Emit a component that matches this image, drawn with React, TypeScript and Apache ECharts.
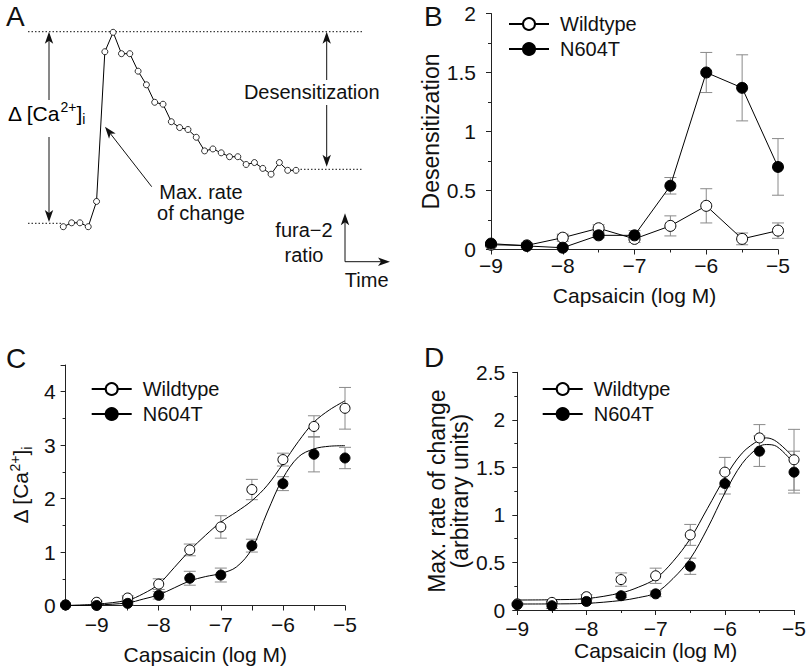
import React, { useEffect, useRef } from 'react';
import * as echarts from 'echarts';

const FONT = '"Liberation Sans", Arial, Helvetica, sans-serif';
const INK = '#111';
const ERR = '#8a8a8a';

// ---------- Panel A: schematic fura-2 trace ----------
const traceTime = [0, 1, 2, 3, 4, 5, 6, 7, 8, 9, 10, 11, 12, 13, 14, 15, 16, 17, 18, 19, 20, 21, 22, 23, 24, 25, 26, 27, 28];
const traceRatio = [0.0, 0.02, 0.02, 0.0, 0.13, 0.9, 1.0, 0.89, 0.89, 0.8, 0.73, 0.64, 0.63, 0.54, 0.51, 0.5, 0.46, 0.39, 0.4, 0.38, 0.36, 0.36, 0.32, 0.33, 0.3, 0.27, 0.33, 0.29, 0.29];

// ---------- Panel B: desensitization ----------
const concB = [-9, -8.5, -8, -7.5, -7, -6.5, -6, -5.5, -5];
const desWT = [0.04, 0.035, 0.1, 0.18, 0.09, 0.2, 0.37, 0.09, 0.16];
const desWTErr = [0.01, 0.02, 0.03, 0.03, 0.03, 0.085, 0.145, 0.05, 0.065];
const desN = [0.05, 0.03, 0.015, 0.12, 0.12, 0.54, 1.5, 1.37, 0.7];
const desNErr = [0.01, 0.01, 0.01, 0.02, 0.04, 0.07, 0.17, 0.28, 0.24];

// ---------- Panel C: delta [Ca2+]i ----------
const concC = [-9.5, -9, -8.5, -8, -7.5, -7, -6.5, -6, -5.5, -5];
const caWT = [0.01, 0.06, 0.14, 0.4, 1.04, 1.47, 2.17, 2.73, 3.35, 3.69];
const caWTErr = [0, 0.02, 0.04, 0.1, 0.11, 0.21, 0.19, 0.12, 0.2, 0.39];
const caN = [0.01, 0.0, 0.04, 0.19, 0.51, 0.57, 1.12, 2.28, 2.83, 2.76];
const caNErr = [0, 0, 0.03, 0.07, 0.13, 0.13, 0.12, 0.13, 0.33, 0.2];
const fitConcC = [-9.5, -9, -8.5, -8.25, -8, -7.75, -7.5, -7.25, -7, -6.75, -6.5, -6.25, -6, -5.75, -5.5, -5.25, -5];
const caWTFit = [0, 0.025, 0.1, 0.22, 0.4, 0.71, 1.03, 1.31, 1.56, 1.75, 1.96, 2.25, 2.65, 3.07, 3.43, 3.66, 3.83];
const caNFit = [0, 0.01, 0.05, 0.12, 0.2, 0.33, 0.46, 0.54, 0.6, 0.72, 1.06, 1.75, 2.38, 2.78, 2.93, 2.98, 2.99];

// ---------- Panel D: max. rate of change ----------
const concD = [-9, -8.5, -8, -7.5, -7, -6.5, -6, -5.5, -5];
const rateWT = [0.065, 0.08, 0.14, 0.32, 0.36, 0.79, 1.45, 1.81, 1.58];
const rateWTErr = [0.01, 0.01, 0.02, 0.07, 0.08, 0.11, 0.155, 0.14, 0.32];
const rateN = [0.056, 0.045, 0.09, 0.15, 0.17, 0.46, 1.33, 1.67, 1.45];
const rateNErr = [0.01, 0.03, 0.02, 0.02, 0.03, 0.085, 0.11, 0.16, 0.22];
const fitConcD = [-9, -8.5, -8, -7.5, -7.25, -7, -6.75, -6.5, -6.25, -6, -5.75, -5.5, -5.4, -5.25, -5];
const rateWTFit = [0.105, 0.108, 0.12, 0.18, 0.24, 0.33, 0.51, 0.75, 1.07, 1.39, 1.65, 1.79, 1.81, 1.77, 1.6];
const rateNFit = [0.063, 0.064, 0.07, 0.1, 0.13, 0.18, 0.33, 0.54, 0.86, 1.23, 1.54, 1.72, 1.74, 1.72, 1.54];

const pairs = (xs: number[], ys: number[]) => xs.map((x, i) => [x, ys[i]]);
const errs = (xs: number[], ys: number[], es: number[]) =>
  xs.map((x, i) => [x, ys[i] - es[i], ys[i] + es[i], es[i]]);

const minus = (v: number) => (v < 0 ? '\u2212' + Math.abs(v) : String(v));

const errorRender = (params: any, api: any) => {
  const x = api.value(0);
  const lo = api.value(1);
  const hi = api.value(2);
  const e = api.value(3);
  if (!(e > 0)) return { type: 'group', children: [] };
  const t = api.coord([x, hi]);
  const b = api.coord([x, lo]);
  const w = 6;
  const st = { stroke: ERR, lineWidth: 1 };
  return {
    type: 'group',
    children: [
      { type: 'line', shape: { x1: t[0], y1: t[1], x2: b[0], y2: b[1] }, style: st },
      { type: 'line', shape: { x1: t[0] - w, y1: t[1], x2: t[0] + w, y2: t[1] }, style: st },
      { type: 'line', shape: { x1: b[0] - w, y1: b[1], x2: b[0] + w, y2: b[1] }, style: st },
    ],
  };
};

const axisLineStyle = { lineStyle: { color: '#222', width: 1 } };

function xAxisFor(grid: number, min: number, max: number, interval: number, minor: boolean, margin: number, nameGap: number, intOnly: boolean) {
  return {
    type: 'value',
    gridIndex: grid,
    min,
    max,
    interval,
    axisLine: { ...axisLineStyle, onZero: false },
    axisTick: { show: true, length: 5, lineStyle: { color: '#222' } },
    minorTick: { show: minor, splitNumber: 2, length: 3, lineStyle: { color: '#222' } },
    splitLine: { show: false },
    minorSplitLine: { show: false },
    axisLabel: {
      fontSize: 21,
      color: INK,
      fontFamily: FONT,
      margin,
      formatter: (v: number) => (intOnly && Math.abs(v - Math.round(v)) > 1e-6 ? '' : minus(v)),
    },
    name: 'Capsaicin (log M)',
    nameLocation: 'middle',
    nameGap,
    nameTextStyle: { fontSize: 21, color: INK, fontFamily: FONT },
  };
}

function yAxisFor(grid: number, min: number, max: number, interval: number, margin: number, name: string, nameGap: number, nameStyle: any) {
  return {
    type: 'value',
    gridIndex: grid,
    min,
    max,
    interval,
    axisLine: { show: true, ...axisLineStyle, onZero: false },
    axisTick: { show: true, length: 5, lineStyle: { color: '#222' } },
    minorTick: { show: true, splitNumber: 2, length: 3, lineStyle: { color: '#222' } },
    splitLine: { show: false },
    minorSplitLine: { show: false },
    axisLabel: { fontSize: 21, color: INK, fontFamily: FONT, margin, showMaxLabel: max % interval === 0 },
    name,
    nameLocation: 'middle',
    nameGap,
    nameTextStyle: { color: INK, fontFamily: FONT, ...nameStyle },
  };
}

const openSym = { color: '#fff', borderColor: '#000', borderWidth: 1, opacity: 1 };
const fillSym = { color: '#000', borderColor: '#000', borderWidth: 1, opacity: 1 };

function legendAt(left: number, top: number) {
  return {
    data: ['Wildtype', 'N604T'],
    left,
    top,
    orient: 'vertical',
    itemWidth: 40,
    itemHeight: 15,
    itemGap: 5,
    padding: 0,
    selectedMode: false,
    textStyle: { fontSize: 20, color: INK, fontFamily: FONT, lineHeight: 20, padding: [0, 0, 0, 6] },
  };
}

const caRich = {
  n: { fontSize: 21, lineHeight: 26, fontFamily: FONT, color: INK },
  sup: { fontSize: 14, lineHeight: 14, verticalAlign: 'top', fontFamily: FONT, color: INK },
  sub: { fontSize: 14, lineHeight: 12, verticalAlign: 'bottom', fontFamily: FONT, color: INK },
};
const caText = '{n|\u0394 [Ca}{sup|2+}{n|]}{sub|i}';

function arrowHead(tx: number, ty: number, dx: number, dy: number) {
  const L = 12;
  const H = 4.2;
  const bx = tx + dx * L;
  const by = ty + dy * L;
  const px = -dy * H;
  const py = dx * H;
  return {
    type: 'polygon',
    shape: { points: [[tx, ty], [bx + px, by + py], [tx + dx * L * 0.75, ty + dy * L * 0.75], [bx - px, by - py]] },
    style: { fill: INK },
  };
}

function seg(x1: number, y1: number, x2: number, y2: number, dash?: number[]) {
  return {
    type: 'line',
    shape: { x1, y1, x2, y2 },
    style: dash ? { stroke: INK, lineWidth: 1, lineDash: dash } : { stroke: INK, lineWidth: 1 },
  };
}

function label(text: string, x: number, y: number, size: number, align = 'center', lineHeight?: number) {
  return {
    type: 'text',
    style: {
      text,
      x,
      y,
      fontSize: size,
      fontFamily: FONT,
      fill: INK,
      align,
      verticalAlign: 'middle',
      lineHeight: lineHeight || size,
    },
  };
}

const diag = (() => {
  const dx = 151.7 - 105;
  const dy = 186.7 - 126.7;
  const l = Math.hypot(dx, dy);
  return [dx / l, dy / l];
})();

export default function App() {
  const ref = useRef<HTMLDivElement>(null);
  useEffect(() => {
    if (!ref.current) return;
    const chart = echarts.init(ref.current, undefined, { renderer: 'svg' });
    const option: any = {
      animation: false,
      backgroundColor: '#fff',
      textStyle: { fontFamily: FONT },
      grid: [
        { left: 63.3, top: 32.3, width: 232.7, height: 194.4 },
        { left: 491, top: 13.5, width: 287, height: 236 },
        { left: 65.6, top: 365, width: 279.4, height: 242 },
        { left: 517.3, top: 372.3, width: 286, height: 237.7 },
      ],
      xAxis: [
        { type: 'value', gridIndex: 0, min: 0, max: 28, show: false },
        xAxisFor(1, -9, -5, 1, true, 5, 35, false),
        xAxisFor(2, -9.5, -5, 0.5, false, 8.5, 38.5, true),
        xAxisFor(3, -9, -5, 1, true, 7.5, 30, false),
      ],
      yAxis: [
        { type: 'value', gridIndex: 0, min: 0, max: 1, show: false },
        yAxisFor(1, 0, 2, 0.5, 15, 'Desensitization', 42, { fontSize: 23 }),
        yAxisFor(2, 0, 4.5, 1, 10, caText, 32, { rich: caRich }),
        yAxisFor(3, 0, 2.5, 0.5, 12, 'Max. rate of change\n(arbitrary units)', 45, { fontSize: 23, lineHeight: 23.5 }),
      ],
      legend: [legendAt(508, 14), legendAt(90.7, 379), legendAt(541.7, 379)],
      series: [
        // Panel B
        {
          type: 'custom', name: 'errB_wt', xAxisIndex: 1, yAxisIndex: 1, renderItem: errorRender,
          data: errs(concB, desWT, desWTErr), z: 1, clip: false, silent: true,
        },
        {
          type: 'custom', name: 'errB_n', xAxisIndex: 1, yAxisIndex: 1, renderItem: errorRender,
          data: errs(concB, desN, desNErr), z: 1, clip: false, silent: true,
        },
        {
          type: 'line', name: 'Wildtype', xAxisIndex: 1, yAxisIndex: 1, data: pairs(concB, desWT),
          symbol: 'circle', symbolSize: 11, showAllSymbol: true, itemStyle: openSym,
          lineStyle: { color: '#000', width: 1 }, z: 3, clip: false,
        },
        {
          type: 'line', name: 'N604T', xAxisIndex: 1, yAxisIndex: 1, data: pairs(concB, desN),
          symbol: 'circle', symbolSize: 11, showAllSymbol: true, itemStyle: fillSym,
          lineStyle: { color: '#000', width: 1 }, z: 4, clip: false,
        },
        // Panel A
        {
          type: 'line', name: 'trace', xAxisIndex: 0, yAxisIndex: 0, data: pairs(traceTime, traceRatio),
          symbol: 'circle', symbolSize: 6, showAllSymbol: true,
          itemStyle: { color: '#fff', borderColor: '#000', borderWidth: 0.8 },
          lineStyle: { color: '#000', width: 1 }, clip: false,
        },
        // Panel C
        {
          type: 'custom', name: 'errC_wt', xAxisIndex: 2, yAxisIndex: 2, renderItem: errorRender,
          data: errs(concC, caWT, caWTErr), z: 1, clip: false, silent: true,
        },
        {
          type: 'custom', name: 'errC_n', xAxisIndex: 2, yAxisIndex: 2, renderItem: errorRender,
          data: errs(concC, caN, caNErr), z: 1, clip: false, silent: true,
        },
        {
          type: 'line', name: 'fitC_wt', xAxisIndex: 2, yAxisIndex: 2, data: pairs(fitConcC, caWTFit),
          symbol: 'none', smooth: 0.35, lineStyle: { color: '#000', width: 1 }, z: 2,
        },
        {
          type: 'line', name: 'fitC_n', xAxisIndex: 2, yAxisIndex: 2, data: pairs(fitConcC, caNFit),
          symbol: 'none', smooth: 0.35, lineStyle: { color: '#000', width: 1 }, z: 2,
        },
        {
          type: 'scatter', name: 'Wildtype', xAxisIndex: 2, yAxisIndex: 2, data: pairs(concC, caWT),
          symbol: 'circle', symbolSize: 10, itemStyle: openSym, z: 3, clip: false,
        },
        {
          type: 'scatter', name: 'N604T', xAxisIndex: 2, yAxisIndex: 2, data: pairs(concC, caN),
          symbol: 'circle', symbolSize: 10, itemStyle: fillSym, z: 4, clip: false,
        },
        // Panel D
        {
          type: 'custom', name: 'errD_wt', xAxisIndex: 3, yAxisIndex: 3, renderItem: errorRender,
          data: errs(concD, rateWT, rateWTErr), z: 1, clip: false, silent: true,
        },
        {
          type: 'custom', name: 'errD_n', xAxisIndex: 3, yAxisIndex: 3, renderItem: errorRender,
          data: errs(concD, rateN, rateNErr), z: 1, clip: false, silent: true,
        },
        {
          type: 'line', name: 'fitD_wt', xAxisIndex: 3, yAxisIndex: 3, data: pairs(fitConcD, rateWTFit),
          symbol: 'none', smooth: 0.35, lineStyle: { color: '#000', width: 1 }, z: 2,
        },
        {
          type: 'line', name: 'fitD_n', xAxisIndex: 3, yAxisIndex: 3, data: pairs(fitConcD, rateNFit),
          symbol: 'none', smooth: 0.35, lineStyle: { color: '#000', width: 1 }, z: 2,
        },
        {
          type: 'scatter', name: 'Wildtype', xAxisIndex: 3, yAxisIndex: 3, data: pairs(concD, rateWT),
          symbol: 'circle', symbolSize: 10, itemStyle: openSym, z: 3, clip: false,
        },
        {
          type: 'scatter', name: 'N604T', xAxisIndex: 3, yAxisIndex: 3, data: pairs(concD, rateN),
          symbol: 'circle', symbolSize: 10, itemStyle: fillSym, z: 4, clip: false,
        },
      ],
      graphic: [
        label('A', 6, 16, 28, 'left'),
        label('B', 424, 16, 28, 'left'),
        label('C', 6, 358, 28, 'left'),
        label('D', 424, 357.5, 28, 'left'),
        seg(28, 31.7, 362, 31.7, [1.5, 2]),
        seg(28, 223.3, 63, 223.3, [1.5, 2]),
        seg(297, 169.3, 362, 169.3, [1.5, 2]),
        seg(49, 40, 49, 100),
        seg(49, 137, 49, 214),
        arrowHead(49, 31.7, 0, 1),
        arrowHead(49, 222, 0, -1),
        {
          type: 'text',
          style: { text: caText, rich: caRich, x: 8, y: 113, align: 'left', verticalAlign: 'middle' },
        },
        seg(326.7, 40, 326.7, 80),
        seg(326.7, 105, 326.7, 158),
        arrowHead(326.7, 31.7, 0, 1),
        arrowHead(326.7, 166.7, 0, -1),
        label('Desensitization', 311.7, 91.7, 20),
        seg(151.7, 186.7, 105 + diag[0] * 9, 126.7 + diag[1] * 9),
        arrowHead(105, 126.7, diag[0], diag[1]),
        label('Max. rate\nof change', 201, 202.5, 20, 'center', 21.6),
        seg(345, 261.7, 345, 222),
        seg(345, 261.7, 381, 261.7),
        arrowHead(345, 213.3, 0, 1),
        arrowHead(390, 261.7, -1, 0),
        label('fura\u22122\nratio', 304, 242.5, 20, 'center', 24.5),
        label('Time', 366.7, 280, 20),
      ],
    };
    chart.setOption(option);
    return () => chart.dispose();
  }, []);
  return (
    <div
      ref={ref}
      style={{ position: 'absolute', left: 0, top: 0, width: 809, height: 666, background: '#fff' }}
    />
  );
}
